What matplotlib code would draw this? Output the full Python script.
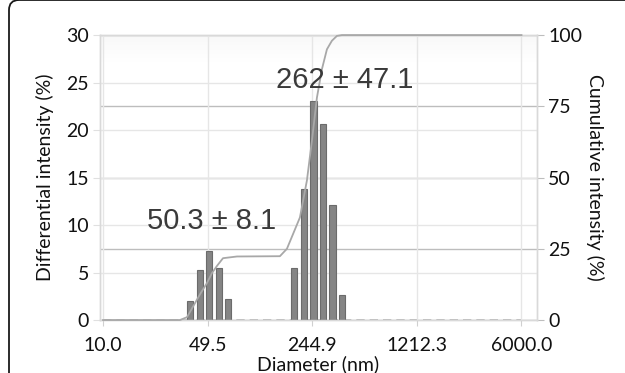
import numpy as np
import matplotlib
matplotlib.use('Agg')
import matplotlib.pyplot as plt
from matplotlib.patches import FancyBboxPatch
from matplotlib.ticker import NullLocator

# Size distribution
diam = [37.8, 44.0, 50.5, 58.9, 67.5, 185.0, 215.7, 249.4, 288.4, 333.4, 385.5]
diff_int = [2.0, 5.3, 7.3, 5.5, 2.2, 5.5, 13.8, 23.1, 20.6, 12.1, 2.6]

# cumulative curve
cum_d = [10.0, 32.4, 36.1, 38.9, 44.0, 49.0, 52.9, 57.1, 62.6, 77.5, 149.4,
         166.3, 202.9, 225.8, 243.8, 263.0, 283.9, 306.5, 330.7, 357.0, 385.5, 6000.0]
cum_int = [0, 0, 1, 4, 9, 13, 16.5, 19, 21.7, 22.3, 22.4,
           25, 36, 49, 63, 78, 88, 95, 98, 99.7, 100, 100]

xticks = [10.0, 49.5, 244.9, 1212.3, 6000.0]
peaks = [("50.3 ± 8.1", 52.5, 10.4), ("262 ± 47.1", 400.0, 25.3)]

plt.rcParams['font.family'] = ['Lato', 'DejaVu Sans']

fig = plt.figure(figsize=(6.25, 3.73), dpi=100)
ax2 = fig.add_axes([0.16, 0.142, 0.699, 0.764])
ax = ax2.twinx()
# left axis on top, its background transparent
ax.set_zorder(2)
ax2.set_zorder(1)
ax.patch.set_visible(False)
ax2.patch.set_visible(True)
ax.xaxis.set_visible(True)
ax.yaxis.tick_left()
ax.yaxis.set_label_position('left')
ax2.yaxis.tick_right()
ax2.yaxis.set_label_position('right')

ax.set_xscale('log')
ax2.set_xscale('log')
for a in (ax, ax2):
    a.set_xlim(9.55, 7590)
    a.xaxis.set_minor_locator(NullLocator())
ax.set_ylim(0, 30)
ax2.set_ylim(0, 100)

# faint shading at the top of the plot area
grad = np.linspace(0, 1, 50).reshape(-1, 1)
ax2.imshow(grad, extent=[0, 1, 0.9, 1.0], transform=ax2.transAxes, cmap='Greys',
           vmin=0, vmax=18, aspect='auto', zorder=0, origin='lower')

# grids
ax2.set_yticks([0, 25, 50, 75, 100])
ax2.grid(axis='y', color='#bdbdbd', lw=1.0)
ax.set_yticks(range(0, 31, 5))
ax.grid(axis='y', color='#e6e6e6', lw=1.0)
ax.set_xticks(xticks)
ax.set_xticklabels([f"{v:.1f}" for v in xticks])
ax2.tick_params(axis='x', labelbottom=False, length=0)
ax.grid(axis='x', color='#e6e6e6', lw=1.0)

# zero line
ax.plot([10, 6000], [0, 0], color='#aaaaaa', lw=1.2, ls=(0, (5, 3)), zorder=1, clip_on=False)

# bars
d = np.array(diam)
f = 1.053
ax.bar(d / f, diff_int, width=d * f - d / f, align='edge', color='#858585',
       edgecolor='#6b6b6b', lw=0.8, zorder=2)

# cumulative line (right scale)
ax.plot(cum_d, cum_int, color='#a8a8a8', lw=1.3, transform=ax2.transData,
        zorder=3, clip_on=False)

for txt, x, y in peaks:
    ax.text(x, y, txt, fontsize=21, family=['Liberation Sans', 'DejaVu Sans'],
            color='#3a3a3a', ha='center', va='center', zorder=4)

for a in (ax, ax2):
    for s in a.spines.values():
        s.set_color('#d9d9d9')
        s.set_linewidth(1.0)

ax.tick_params(axis='y', length=5, color='#e0e0e0', labelsize=14, pad=3, labelcolor='#111111')
ax2.tick_params(axis='y', length=5, color='#bdbdbd', labelsize=14, pad=3, labelcolor='#111111')
ax.tick_params(axis='x', length=4, color='#d0d0d0', labelsize=14, pad=8, labelcolor='#111111')

ax.set_ylabel('Differential intensity (%)', fontsize=14, labelpad=9, color='#111111')
ax2.set_ylabel('Cumulative intensity (%)', fontsize=14, rotation=270, va='bottom',
               labelpad=3, color='#111111')
ax.set_xlabel('Diameter (nm)', fontsize=14, labelpad=1, color='#111111')

# rounded frame around the figure
frame = FancyBboxPatch((0.09, -0.3), 6.6, 3.92 - 0.11 + 0.3 - 0.08,
                       boxstyle='round,pad=0,rounding_size=0.1',
                       transform=fig.dpi_scale_trans, fill=False,
                       edgecolor='#1a1a1a', lw=1.3)
fig.patches.append(frame)

fig.savefig('out.png', dpi=100)
